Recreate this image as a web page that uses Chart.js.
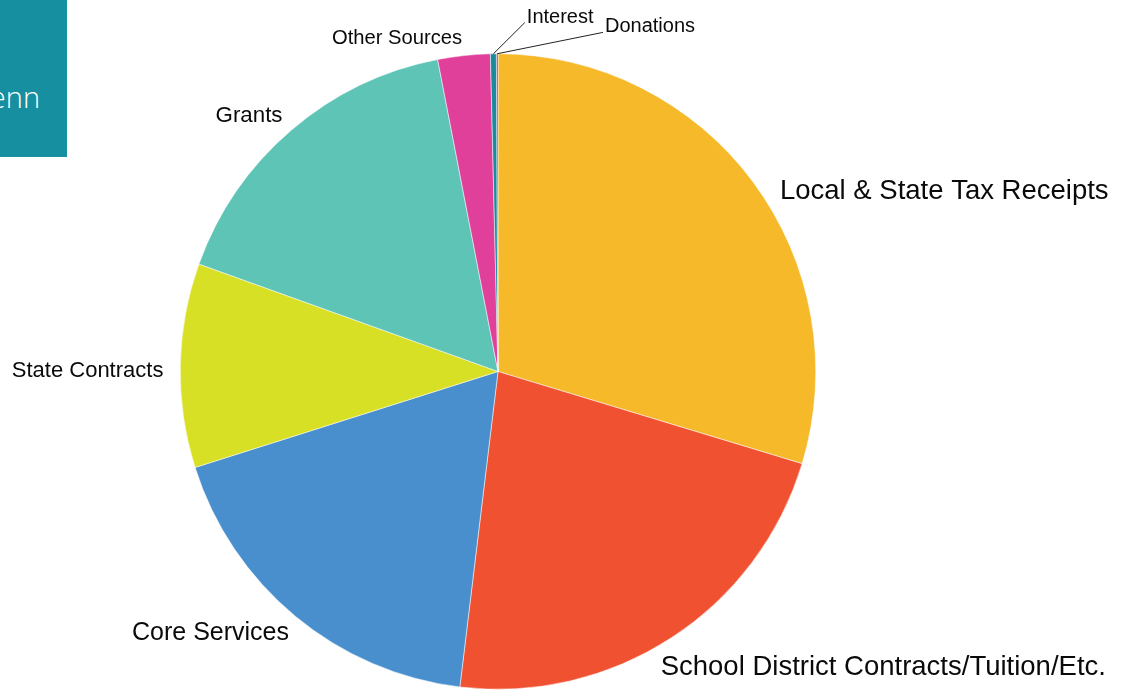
<!DOCTYPE html>
<html lang="en">
<head>
    <meta charset="UTF-8">
    <title>Revenue Sources</title>
    <script src="https://cdn.jsdelivr.net/npm/chart.js"></script>
    <style>
        html, body {
            margin: 0;
            padding: 0;
            background: #fff;
            overflow: hidden;
        }
        .wrap {
            position: relative;
            width: 1127px;
            height: 691px;
        }
        .badge {
            position: absolute;
            left: 0;
            top: 0;
            width: 67px;
            height: 157px;
            background: #168fa0;
            overflow: hidden;
            z-index: 2;
        }
        .badge span {
            position: absolute;
            right: 27px;
            top: 82px;
            font-family: 'Open Sans', sans-serif;
            font-weight: 300;
            font-size: 29px;
            color: #fff;
            white-space: nowrap;
            line-height: 1;
        }
    </style>
</head>
<body>
    <div class="wrap">
        <div class="badge"><span>enn</span></div>
        <canvas id="pieChart" width="1127" height="691"></canvas>
    </div>
    <script>
    const sources = [
        'Local & State Tax Receipts',
        'School District Contracts/Tuition/Etc.',
        'Core Services',
        'State Contracts',
        'Grants',
        'Other Sources',
        'Interest',
        'Donations'
    ];
    // share of revenue, percent
    const shares = [29.68, 22.23, 18.2, 10.37, 16.47, 2.66, 0.3, 0.08];

    const sliceColors = ['#f5b92a', '#f05131', '#4a8fcd', '#d8e026', '#5ec4b6', '#e0409a', '#1a8a9c', '#7c5295'];
    const labelSizes = [27.5, 27.5, 25, 22, 22.3, 20.2, 20, 20];
    // small nudge (degrees) so big labels clear their neighbours
    const labelNudge = [4, 4.3, -1, -1, 0.5, 0, 0, 0];
    // tiny slices get a leader line out to [angle from top, radius]
    const callouts = [null, null, null, null, null, null, [4.4, 350], [17.2, 355]];

    const outsideLabels = {
        id: 'outsideLabels',
        afterDatasetsDraw(chart) {
            const ctx = chart.ctx;
            const arcs = chart.getDatasetMeta(0).data;
            ctx.save();
            ctx.fillStyle = '#0a0a0a';
            ctx.strokeStyle = '#222';
            ctx.lineWidth = 1;
            arcs.forEach((arc, i) => {
                const p = arc.getProps(['x', 'y', 'startAngle', 'endAngle', 'outerRadius'], true);
                const mid = (p.startAngle + p.endAngle) / 2;
                ctx.font = `${labelSizes[i]}px 'Liberation Sans', Arial, sans-serif`;
                if (callouts[i]) {
                    const a = callouts[i][0] * Math.PI / 180 - Math.PI / 2;
                    const r = callouts[i][1];
                    const sx = p.x + Math.cos(mid) * p.outerRadius;
                    const sy = p.y + Math.sin(mid) * p.outerRadius;
                    const ex = p.x + Math.cos(a) * r;
                    const ey = p.y + Math.sin(a) * r;
                    ctx.beginPath();
                    ctx.moveTo(sx, sy);
                    ctx.lineTo(ex, ey);
                    ctx.stroke();
                    ctx.textAlign = 'left';
                    ctx.textBaseline = 'alphabetic';
                    ctx.fillText(sources[i], ex + 2, ey);
                    return;
                }
                const a = mid + labelNudge[i] * Math.PI / 180;
                const r = p.outerRadius * (i === 1 ? 1.062 : 1.053);
                ctx.textAlign = Math.cos(a) >= 0 ? 'left' : 'right';
                ctx.textBaseline = 'middle';
                ctx.fillText(sources[i], p.x + Math.cos(a) * r, p.y + Math.sin(a) * r);
            });
            ctx.restore();
        }
    };

    new Chart(document.getElementById('pieChart').getContext('2d'), {
        type: 'pie',
        data: {
            labels: sources,
            datasets: [{
                data: shares,
                backgroundColor: sliceColors,
                borderColor: '#fff',
                borderWidth: 0.5,
                hoverOffset: 0
            }]
        },
        options: {
            responsive: false,
            animation: false,
            events: [],
            layout: {
                padding: { left: 180, right: 311, top: 53, bottom: 1 }
            },
            plugins: {
                legend: { display: false },
                tooltip: { enabled: false }
            }
        },
        plugins: [outsideLabels]
    });
    </script>
</body>
</html>
